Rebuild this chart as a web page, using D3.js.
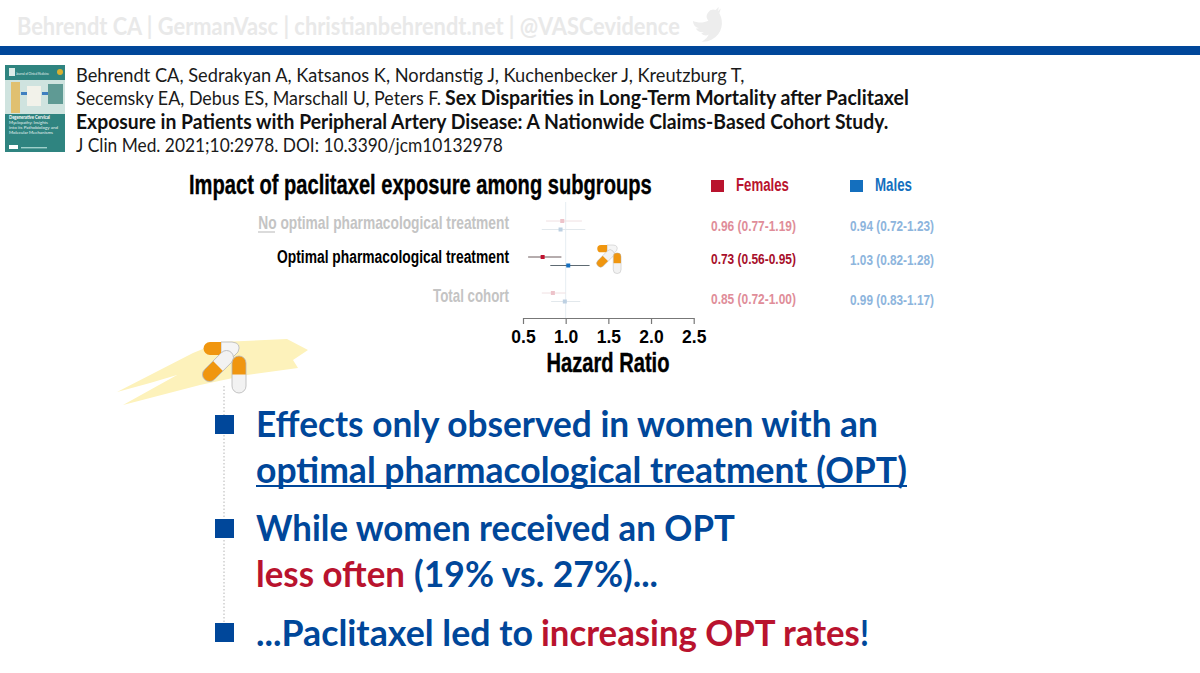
<!DOCTYPE html>
<html>
<head>
<meta charset="utf-8">
<script src="https://cdn.jsdelivr.net/npm/d3@7"></script>
<style>
  html, body { margin: 0; padding: 0; background: #fff; }
  svg { display: block; }
</style>
</head>
<body>
<svg id="chart" width="1200" height="673"></svg>
<script>
// hazard ratios
var subgroups = ["No optimal pharmacological treatment", "Optimal pharmacological treatment", "Total cohort"];
var femaleHR = [0.96, 0.73, 0.85];
var femaleLo = [0.77, 0.56, 0.72];
var femaleHi = [1.19, 0.95, 1.00];
var maleHR = [0.94, 1.03, 0.99];
var maleLo = [0.72, 0.82, 0.83];
var maleHi = [1.23, 1.28, 1.17];
var axisTicks = [0.5, 1.0, 1.5, 2.0, 2.5];
var highlighted = [false, true, false];

var NARROW = "'Liberation Sans Narrow', 'Liberation Sans', sans-serif";
var BODY = "Lato, 'Open Sans', sans-serif";
var BLUE = "#00479a";
var RED = "#b9132e";
var ORANGE = "#f0960f";

var svg = d3.select("#chart");

// squeeze each text to its measured width in the slide
function label(x, y, str, size, color, weight, family, width, anchor) {
  var t = svg.append("text")
    .attr("font-family", family)
    .attr("font-size", size)
    .attr("font-weight", weight)
    .attr("fill", color)
    .attr("text-anchor", anchor || "start")
    .text(str);
  var natural = t.node().getComputedTextLength();
  var sx = width && natural ? width / natural : 1;
  t.attr("transform", "translate(" + x + "," + y + ") scale(" + sx + ",1)");
  return t;
}

// header
label(17, 35, "Behrendt CA | GermanVasc | christianbehrendt.net | @VASCevidence", 25, "#e9e9e9", 700, BODY, 663);
svg.append("path")
  .attr("d", "M23.95 4.57a10 10 0 0 1-2.82.77 4.96 4.96 0 0 0 2.16-2.72c-.95.55-2 .96-3.12 1.19a4.92 4.92 0 0 0-8.38 4.48C7.69 8.09 4.07 6.13 1.64 3.16a4.82 4.82 0 0 0-.67 2.48c0 1.71.87 3.21 2.19 4.1a4.9 4.9 0 0 1-2.23-.61v.06c0 2.39 1.7 4.38 3.95 4.83a5 5 0 0 1-2.21.08 4.94 4.94 0 0 0 4.6 3.42 9.87 9.87 0 0 1-6.1 2.1c-.39 0-.78-.02-1.17-.07a13.98 13.98 0 0 0 7.56 2.21c9.05 0 14-7.5 14-13.98 0-.21 0-.42-.02-.63a9.94 9.94 0 0 0 2.46-2.55z")
  .attr("transform", "translate(711,25) rotate(-28) scale(1.35) translate(-12,-12)")
  .attr("fill", "#ededed");
svg.append("rect").attr("x", 0).attr("y", 46).attr("width", 1200).attr("height", 9).attr("fill", BLUE);

// journal cover
var cover = svg.append("g");
cover.append("rect").attr("x", 5).attr("y", 65).attr("width", 60).attr("height", 87).attr("fill", "#2f8480");
cover.append("rect").attr("x", 5).attr("y", 80).attr("width", 60).attr("height", 34).attr("fill", "#cfe3df");
cover.append("rect").attr("x", 11).attr("y", 82).attr("width", 9).attr("height", 31).attr("fill", "#e0c070");
cover.append("rect").attr("x", 27).attr("y", 86).attr("width", 14).attr("height", 20).attr("fill", "#f2f2ea");
cover.append("rect").attr("x", 21).attr("y", 92).attr("width", 6).attr("height", 3).attr("fill", "#3f7fc0");
cover.append("rect").attr("x", 42).attr("y", 92).attr("width", 6).attr("height", 3).attr("fill", "#3f7fc0");
cover.append("rect").attr("x", 48).attr("y", 84).attr("width", 15).attr("height", 20).attr("fill", "#5f9a94");
cover.append("circle").attr("cx", 60).attr("cy", 72).attr("r", 3).attr("fill", "#d8b030");
cover.append("rect").attr("x", 9).attr("y", 68).attr("width", 6).attr("height", 8).attr("fill", "#dcebe8");
label(16, 75, "Journal of Clinical Medicine", 4.5, "#eaf4f2", 400, BODY, 33);
label(9, 119, "Degenerative Cervical", 4.6, "#ffffff", 700, BODY, 41);
label(9, 124, "Myelopathy: Insights", 4.6, "#e6f2f0", 400, BODY, 39);
label(9, 129, "into its Pathobiology and", 4.6, "#e6f2f0", 400, BODY, 49);
label(9, 134, "Molecular Mechanisms", 4.6, "#e6f2f0", 400, BODY, 44);
cover.append("rect").attr("x", 9).attr("y", 145).attr("width", 9).attr("height", 4).attr("fill", "#ffffff");
cover.append("rect").attr("x", 21).attr("y", 147).attr("width", 26).attr("height", 1.4).attr("fill", "#9fd0ca");

// citation
label(76, 82, "Behrendt CA, Sedrakyan A, Katsanos K, Nordanstig J, Kuchenbecker J, Kreutzburg T,", 20, "#1a1a1a", 400, BODY, 669);
label(76, 105, "Secemsky EA, Debus ES, Marschall U, Peters F.", 20, "#1a1a1a", 400, BODY, 365);
label(445, 105, "Sex Disparities in Long-Term Mortality after Paclitaxel", 20, "#111", 700, BODY, 464);
label(76, 129, "Exposure in Patients with Peripheral Artery Disease: A Nationwide Claims-Based Cohort Study.", 20, "#111", 700, BODY, 813);
label(76, 152, "J Clin Med. 2021;10:2978. DOI: 10.3390/jcm10132978", 20, "#1a1a1a", 400, BODY, 427);

// forest plot
var x = d3.scaleLinear().domain([0.5, 2.5]).range([523, 693.7]);
var rowF = d3.scalePoint().domain(subgroups).range([221, 293]);
var offsetM = 8.5;
var rowLabelY = [229, 263, 302];
var rowLabelW = [251, 232, 76];
var valueY = [231, 264, 304];

label(189, 194, "Impact of paclitaxel exposure among subgroups", 27, "#000", 700, NARROW, 463)
  .attr("stroke", "#000").attr("stroke-width", 0.35);

svg.append("line")
  .attr("x1", x(1)).attr("x2", x(1)).attr("y1", 202).attr("y2", 318)
  .attr("stroke", "#e6edf2").attr("stroke-width", 1);

var axis = svg.append("g")
  .attr("transform", "translate(0,318)")
  .call(d3.axisBottom(x).tickValues(axisTicks).tickFormat(d3.format(".1f")).tickSize(6).tickSizeOuter(0).tickPadding(7));
axis.selectAll("path, line").attr("stroke", "#777").attr("stroke-width", 1.2);
axis.selectAll("text")
  .attr("font-family", NARROW).attr("font-size", 17.5).attr("font-weight", 700).attr("fill", "#000");

label(608, 372, "Hazard Ratio", 28, "#000", 700, NARROW, 123, "middle")
  .attr("stroke", "#000").attr("stroke-width", 0.4);

function drawSeries(hr, lo, hi, strong, faded, dy, lineStrong, lineFaded) {
  subgroups.forEach(function(name, i) {
    var y = rowF(name) + dy;
    var on = highlighted[i];
    svg.append("line")
      .attr("x1", x(lo[i])).attr("x2", x(hi[i])).attr("y1", y).attr("y2", y)
      .attr("stroke", on ? lineStrong : lineFaded).attr("stroke-width", 1);
    svg.append("rect")
      .attr("x", x(hr[i]) - 2).attr("y", y - 2).attr("width", 4).attr("height", 4)
      .attr("fill", on ? strong : faded);
  });
}
drawSeries(femaleHR, femaleLo, femaleHi, "#c0122f", "#edc3ca", 0, "#6d5a5d", "#f0e0e2");
drawSeries(maleHR, maleLo, maleHi, "#156fbf", "#bdd0e2", offsetM, "#5e6a72", "#e2e8ec");

// row labels
subgroups.forEach(function(name, i) {
  label(509, rowLabelY[i], name, 19, highlighted[i] ? "#000" : "#c4c4c4", 700, NARROW, rowLabelW[i], "end");
});
svg.append("line").attr("x1", 258).attr("x2", 275).attr("y1", 232).attr("y2", 232)
  .attr("stroke", "#c4c4c4").attr("stroke-width", 1.2);

// legend and values
svg.append("rect").attr("x", 711).attr("y", 180).attr("width", 13).attr("height", 12).attr("fill", RED);
label(736, 191, "Females", 18, RED, 700, NARROW, 53);
svg.append("rect").attr("x", 850).attr("y", 180).attr("width", 13).attr("height", 12).attr("fill", "#146fbe");
label(875, 191, "Males", 18, "#146fbe", 700, NARROW, 37);

function valueText(hr, lo, hi, i) {
  return hr[i].toFixed(2) + " (" + lo[i].toFixed(2) + "-" + hi[i].toFixed(2) + ")";
}
subgroups.forEach(function(name, i) {
  label(711, valueY[i], valueText(femaleHR, femaleLo, femaleHi, i), 15.5, highlighted[i] ? "#a80f2b" : "#e08d99", 700, NARROW, 85);
  label(850, valueY[i] + (i ? 1 : 0), valueText(maleHR, maleLo, maleHi, i), 15.5, "#8db5dd", 700, NARROW, 84);
});

// pills
var pillCount = 0;
function pill(g, cx, cy, len, w, angle, cap, capShare) {
  var p = g.append("g").attr("transform", "translate(" + cx + "," + cy + ") rotate(" + angle + ")");
  var clipId = "clip" + (pillCount++);
  p.append("clipPath").attr("id", clipId).append("rect")
    .attr("x", -len / 2).attr("y", -w / 2).attr("width", len).attr("height", w).attr("rx", w / 2);
  p.append("rect")
    .attr("x", -len / 2).attr("y", -w / 2).attr("width", len).attr("height", w).attr("rx", w / 2)
    .attr("fill", "#f2f2f2");
  p.append("rect")
    .attr("x", -len / 2).attr("y", -w / 2).attr("width", len * capShare).attr("height", w)
    .attr("fill", cap).attr("clip-path", "url(#" + clipId + ")");
  p.append("rect")
    .attr("x", -len / 2).attr("y", -w / 2).attr("width", len).attr("height", w).attr("rx", w / 2)
    .attr("fill", "none").attr("stroke", "#b5b5b5").attr("stroke-width", 0.8);
}

function pillCluster(tx, ty, s) {
  var g = svg.append("g").attr("transform", "translate(" + tx + "," + ty + ") scale(" + s + ")");
  // top pill, bent white half
  g.append("path")
    .attr("d", "M18,0 H29 Q39,1 35,10 L28,17 H18 Z")
    .attr("fill", "#f5f5f5").attr("stroke", "#b5b5b5").attr("stroke-width", 0.8);
  g.append("path")
    .attr("d", "M18,0 H7 A6.5,6.5 0 0 0 7,13 H18 Z")
    .attr("fill", ORANGE);
  pill(g, 15, 24, 38, 14, -45, ORANGE, 0.5);
  pill(g, 36, 32.5, 37, 14, 90, ORANGE, 0.5);
  return g;
}

// yellow brush stroke behind the big pills
svg.append("path")
  .attr("d", "M117,392 L193,353 L220,342 L287,339 L308,350 L293,360 L298,368 L247,375 L200,385 L123,405 L177,375 L150,383 Z")
  .attr("fill", "#fdf2bb");

pillCluster(203, 342, 1);
pillCluster(597, 245, 0.56);

// takeaways
svg.append("line").attr("x1", 224).attr("x2", 224).attr("y1", 386).attr("y2", 640)
  .attr("stroke", "#b5b5b5").attr("stroke-width", 1).attr("stroke-dasharray", "1.5,2");
[415, 519, 623].forEach(function(y) {
  svg.append("rect").attr("x", 215).attr("y", y).attr("width", 19).attr("height", 19).attr("fill", BLUE);
});
label(256, 437, "Effects only observed in women with an", 37, BLUE, 700, BODY, 622);
label(256, 482.5, "optimal pharmacological treatment (OPT)", 37, BLUE, 700, BODY, 651);
svg.append("line").attr("x1", 256).attr("x2", 907).attr("y1", 486).attr("y2", 486)
  .attr("stroke", BLUE).attr("stroke-width", 2.2);
label(256, 541, "While women received an OPT", 37, BLUE, 700, BODY, 479);
label(256, 587, "less often", 37, RED, 700, BODY, 149);
label(414, 587, "(19% vs. 27%)...", 37, BLUE, 700, BODY, 244);
label(256, 646, "...Paclitaxel led to", 37, BLUE, 700, BODY, 277);
label(541, 646, "increasing OPT rates", 37, RED, 700, BODY, 319);
label(860, 646, "!", 37, BLUE, 700, BODY, 9);
</script>
</body>
</html>
